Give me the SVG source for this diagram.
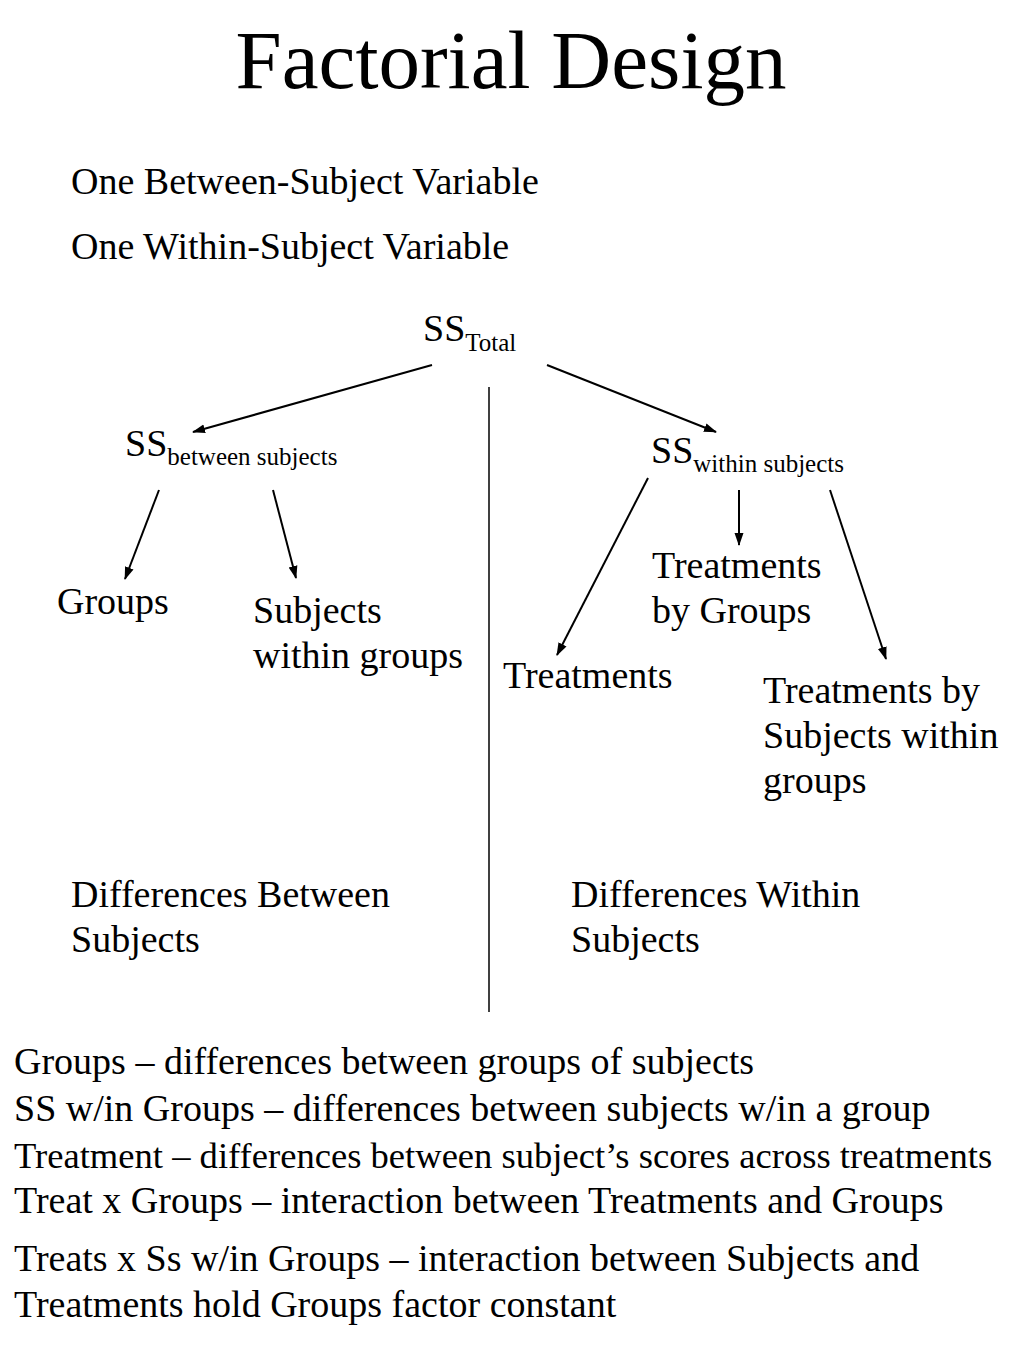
<svg xmlns="http://www.w3.org/2000/svg" width="1024" height="1365" viewBox="0 0 1024 1365">
<style>
text{font-family:"Liberation Serif","Times New Roman",serif;fill:#000}
.t{font-size:38px}
.s{font-size:25px}
.c{stroke:#000;stroke-width:2;fill:none}
</style>
<defs>
<marker id="ah" markerWidth="13" markerHeight="12" refX="12" refY="6" orient="auto" markerUnits="userSpaceOnUse">
<path d="M0,1.5 L13,6 L0,10.5 Z" fill="#000"/>
</marker>
</defs>
<rect width="1024" height="1365" fill="#fff"/>
<text x="511" y="88" font-size="83" text-anchor="middle">Factorial Design</text>
<g id="heading">
<text class="t" x="71" y="194">One Between-Subject Variable</text>
<text class="t" x="71" y="259">One Within-Subject Variable</text>
</g>
<g id="connectors">
<line class="c" x1="432" y1="365" x2="193" y2="432" marker-end="url(#ah)"/>
<line class="c" x1="547" y1="365" x2="716" y2="432" marker-end="url(#ah)"/>
<line x1="489" y1="387" x2="489" y2="1012" stroke="#000" stroke-width="1.5"/>
<line class="c" x1="159" y1="490" x2="125" y2="579" marker-end="url(#ah)"/>
<line class="c" x1="273" y1="490" x2="296" y2="578" marker-end="url(#ah)"/>
<line class="c" x1="648" y1="478" x2="557" y2="655" marker-end="url(#ah)"/>
<line class="c" x1="739" y1="490" x2="739" y2="545" marker-end="url(#ah)"/>
<line class="c" x1="830" y1="490" x2="886" y2="659" marker-end="url(#ah)"/>
</g>
<g id="ss-total"><text class="t" x="423" y="341">SS<tspan class="s" dy="10">Total</tspan></text></g>
<g id="ss-between"><text class="t" x="125" y="456">SS<tspan class="s" dy="9">between subjects</tspan></text></g>
<g id="ss-within"><text class="t" x="651" y="463">SS<tspan class="s" dy="9">within subjects</tspan></text></g>
<g id="groups"><text class="t" x="57" y="614">Groups</text></g>
<g id="subjects-within-groups"><text class="t" x="253" y="623">Subjects</text><text class="t" x="253" y="668">within groups</text></g>
<g id="treatments-by-groups"><text class="t" x="652" y="578">Treatments</text><text class="t" x="652" y="623">by Groups</text></g>
<g id="treatments"><text class="t" x="503" y="688">Treatments</text></g>
<g id="treatments-by-subjects"><text class="t" x="763" y="703">Treatments by</text><text class="t" x="763" y="748">Subjects within</text><text class="t" x="763" y="793">groups</text></g>
<g id="diff-between"><text class="t" x="71" y="907">Differences Between</text><text class="t" x="71" y="952">Subjects</text></g>
<g id="diff-within"><text class="t" x="571" y="907">Differences Within</text><text class="t" x="571" y="952">Subjects</text></g>
<g id="legend">
<text class="t" x="14" y="1074">Groups – differences between groups of subjects</text>
<text class="t" x="14" y="1121">SS w/in Groups – differences between subjects w/in a group</text>
<text x="14" y="1168" font-size="36.6">Treatment – differences between subject’s scores across treatments</text>
<text class="t" x="14" y="1213">Treat x Groups – interaction between Treatments and Groups</text>
<text class="t" x="14" y="1271">Treats x Ss w/in Groups – interaction between Subjects and</text>
<text class="t" x="14" y="1317">Treatments hold Groups factor constant</text>
</g>
</svg>
